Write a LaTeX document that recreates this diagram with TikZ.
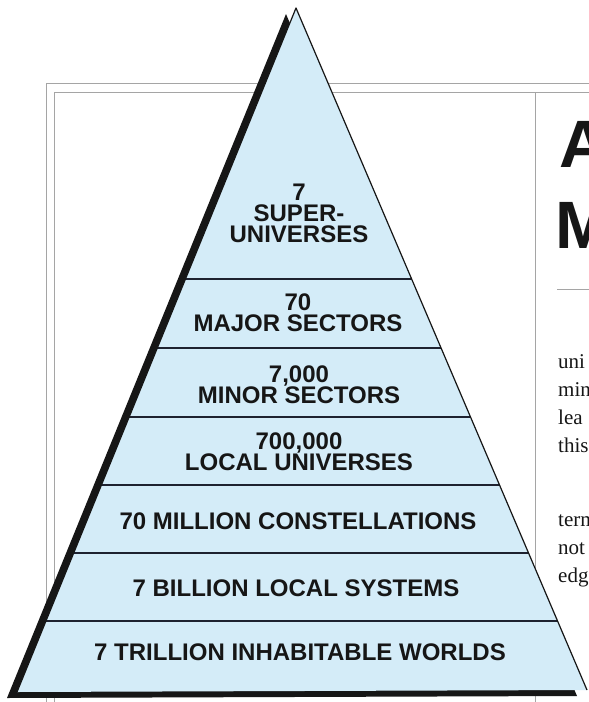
\documentclass[tikz,border=0pt]{standalone}
\usepackage{fontspec}
\setmainfont{Liberation Serif}
\newfontfamily\labfont{Liberation Sans}
\usetikzlibrary{calc}
\definecolor{pyrblue}{RGB}{212,236,248}
\definecolor{rowline}{RGB}{30,34,48}
\definecolor{framegray}{RGB}{165,165,165}
\definecolor{ink}{RGB}{22,22,22}
\tikzset{
  framestroke/.style={draw=framegray, line width=0.8pt},
  rowlab/.style={font=\labfont\bfseries\fontsize{24}{21}\selectfont, text=ink, align=center, inner sep=0pt},
  bodytext/.style={font=\fontsize{21}{25}\selectfont, text=ink, anchor=base west, inner sep=0pt},
  titletext/.style={font=\labfont\bfseries\fontsize{67}{70}\selectfont, text=ink, anchor=base west, inner sep=0pt},
}
\begin{document}
\begin{tikzpicture}[x=1pt,y=-1pt]
\useasboundingbox (0,0) rectangle (589,702);
\fill[white] (0,0) rectangle (589,702);
% page frame
\draw[framestroke] (589,83) -- (46,83) -- (46,702);
\draw[framestroke] (589,92) -- (54,92) -- (54,702);
\draw[framestroke] (535,92) -- (535,702);
\draw[framestroke] (557,289) -- (589,289);
% right column
\node[titletext] (tA) at (559,167) {A};
\node[titletext] (tM) at (555,248) {M};
\node[bodytext] (b1) at (558,368) {uni};
\node[bodytext] (b2) at (558,396) {min};
\node[bodytext] (b3) at (558,424) {lea};
\node[bodytext] (b4) at (558,452) {this};
\node[bodytext] (b5) at (558,526) {term};
\node[bodytext] (b6) at (558,554) {not};
\node[bodytext] (b7) at (558,582) {edg};
% pyramid
\coordinate (apex) at (296,8);
\coordinate (bl) at (17,692);
\coordinate (br) at (587,690);
\fill[ink] ($(apex)+(-10,6)$) -- ($(bl)+(-10,6)$) -- ($(br)+(-10,6)$) -- cycle;
\fill[pyrblue] (apex) -- (bl) -- (br) -- cycle;
\begin{scope}
  \clip (apex) -- (bl) -- (br) -- cycle;
  \foreach \yy in {279,348,417,485,553,621} {
    \draw[rowline, line width=1.3pt] (0,\yy) -- (589,\yy);
  }
\end{scope}
\draw[ink, line width=1.2pt, line join=round] (bl) -- (apex) -- (br);
% labels
\node[rowlab] (r1) at (299,213) {7\\SUPER-\\UNIVERSES};
\node[rowlab] (r2) at (298,313) {70\\MAJOR SECTORS};
\node[rowlab] (r3) at (299,385) {7,000\\MINOR SECTORS};
\node[rowlab] (r4) at (299,452) {700,000\\LOCAL UNIVERSES};
\node[rowlab] (r5) at (298,521) {70 MILLION CONSTELLATIONS};
\node[rowlab] (r6) at (296,588) {7 BILLION LOCAL SYSTEMS};
\node[rowlab] (r7) at (300,652) {7 TRILLION INHABITABLE WORLDS};
\end{tikzpicture}
\end{document}
